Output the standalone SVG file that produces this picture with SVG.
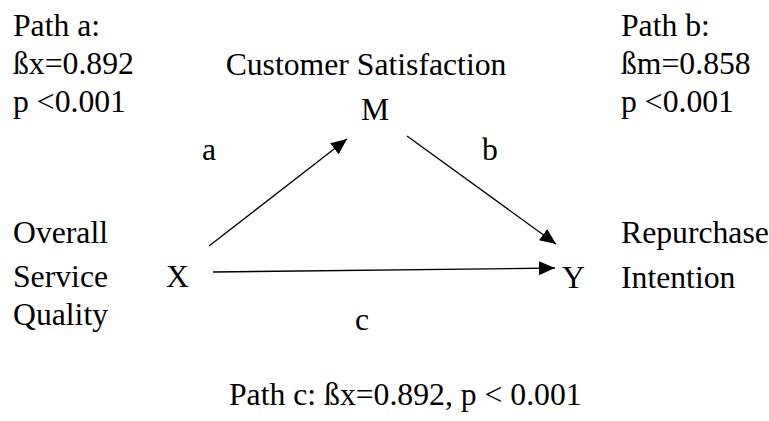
<svg xmlns="http://www.w3.org/2000/svg" width="769" height="421" viewBox="0 0 769 421">
<style>
text{font-family:"Liberation Serif","Times New Roman",serif;font-size:31.7px;fill:#000}
.c{text-anchor:middle}
.ln{stroke:#000;stroke-width:1.3;fill:none}
</style>
<defs>
<marker id="ah" markerUnits="userSpaceOnUse" markerWidth="16" markerHeight="14" refX="16" refY="7" orient="auto">
<path d="M0,0 L16,7 L0,14 Z" fill="#000"/>
</marker>
</defs>
<rect width="769" height="421" fill="#fff"/>
<g id="pathA-label">
<text x="13" y="36">Path a:</text>
<text x="13" y="74">ßx=0.892</text>
<text x="13" y="112">p &lt;0.001</text>
</g>
<g id="pathB-label">
<text x="621" y="36">Path b:</text>
<text x="621" y="74">ßm=0.858</text>
<text x="621" y="112">p &lt;0.001</text>
</g>
<g id="M">
<text class="c" x="366" y="75">Customer Satisfaction</text>
<text class="c" x="375" y="120">M</text>
</g>
<g id="X">
<text x="13" y="243">Overall</text>
<text x="13" y="287">Service</text>
<text x="13" y="325">Quality</text>
<text x="166" y="287">X</text>
</g>
<g id="Y">
<text x="562" y="288">Y</text>
<text x="621" y="243">Repurchase</text>
<text x="621" y="288">Intention</text>
</g>
<g id="connectors">
<line class="ln" x1="209" y1="246" x2="347" y2="139" marker-end="url(#ah)"/>
<line class="ln" x1="407" y1="136" x2="556" y2="244" marker-end="url(#ah)"/>
<line class="ln" x1="213" y1="272" x2="555" y2="268" marker-end="url(#ah)"/>
<text x="202" y="160">a</text>
<text x="482" y="160">b</text>
<text x="355" y="330">c</text>
</g>
<g id="pathC-label">
<text x="229" y="405">Path c: ßx=0.892, p &lt; 0.001</text>
</g>
</svg>
